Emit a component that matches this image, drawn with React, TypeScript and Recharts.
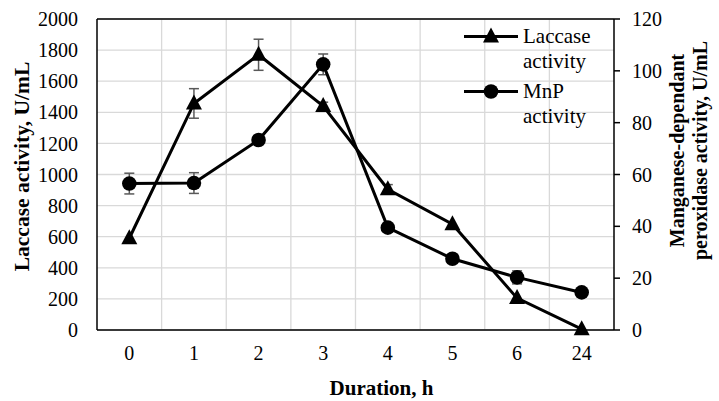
import {
  LineChart,
  Line,
  XAxis,
  YAxis,
  CartesianGrid,
  ErrorBar,
  Label,
  ReferenceLine,
} from "recharts";

const hours = ["0", "1", "2", "3", "4", "5", "6", "24"];
const laccase = [590, 1457, 1770, 1440, 905, 680, 205, 5];
const laccaseErr = [0, 95, 100, 25, 30, 0, 0, 0];
const mnp = [56.5, 56.7, 73.3, 102.5, 39.5, 27.5, 20.3, 14.5];
const mnpErr = [4, 4, 1.5, 4, 1.5, 0.5, 2.5, 0];
const leftTicks = [0, 200, 400, 600, 800, 1000, 1200, 1400, 1600, 1800, 2000];
const rightTicks = [0, 20, 40, 60, 80, 100, 120];

const data = hours.map((h, i) => ({
  hour: h,
  laccase: laccase[i],
  laccaseErr: laccaseErr[i],
  mnp: mnp[i],
  mnpErr: mnpErr[i],
}));

const FONT = '"Liberation Serif", "Times New Roman", serif';
const tickStyle = { fontSize: 20, fill: "#000", fontFamily: FONT };

// vertical grid lines sit on the boundaries between category bands
function bandEdges({ offset }: any) {
  const step = offset.width / hours.length;
  return hours.slice(1).map((_, i) => offset.left + step * (i + 1));
}

function TriangleDot(props: any) {
  const { cx, cy, index } = props;
  if (cx == null || cy == null) return null;
  return (
    <polygon
      key={`tri-${index}`}
      points={`${cx},${cy - 9} ${cx - 8},${cy + 6} ${cx + 8},${cy + 6}`}
      fill="#000"
    />
  );
}

function CircleDot(props: any) {
  const { cx, cy, index } = props;
  if (cx == null || cy == null) return null;
  return <circle key={`cir-${index}`} cx={cx} cy={cy} r={7.3} fill="#000" />;
}

// rotated multi-line axis title, placed relative to the axis viewBox
function VTitle({ viewBox, lines, dx, dy, size, gap }: any) {
  const { x, y, height } = viewBox;
  const cy = y + height / 2 + dy;
  return (
    <g>
      {lines.map((t: string, i: number) => {
        const tx = x + dx + i * gap;
        return (
          <text
            key={t}
            x={tx}
            y={cy}
            transform={`rotate(-90, ${tx}, ${cy})`}
            textAnchor="middle"
            dominantBaseline="central"
            fontFamily={FONT}
            fontWeight="bold"
            fontSize={size}
            fill="#000"
          >
            {t}
          </text>
        );
      })}
    </g>
  );
}

function LegendBox() {
  const row = (label: string, marker: "tri" | "cir", mt: number) => (
    <div style={{ display: "flex", alignItems: "flex-start", marginTop: mt }}>
      <svg width={58} height={25} style={{ flex: "none" }}>
        <line x1={2} y1={12.5} x2={56} y2={12.5} stroke="#000" strokeWidth={3} />
        {marker === "tri" ? (
          <polygon points="29,3.5 21,18.5 37,18.5" fill="#000" />
        ) : (
          <circle cx={29} cy={12.5} r={7.3} fill="#000" />
        )}
      </svg>
      <div style={{ marginLeft: 3 }}>
        <div>{label}</div>
        <div>activity</div>
      </div>
    </div>
  );
  return (
    <div
      style={{
        position: "absolute",
        top: 24,
        left: 462,
        fontFamily: FONT,
        fontSize: 21,
        lineHeight: "25px",
        color: "#000",
      }}
    >
      {row("Laccase", "tri", 0)}
      {row("MnP", "cir", 5)}
    </div>
  );
}

export default function App() {
  return (
    <div style={{ position: "absolute", left: 0, top: 0, background: "#fff", fontFamily: FONT }}>
      <LineChart
        width={719}
        height={401}
        data={data}
        margin={{ top: 19, right: 0, bottom: 0, left: 12 }}
      >
        <XAxis
          dataKey="hour"
          scale="band"
          tickLine={false}
          tickSize={6}
          tickMargin={6}
          axisLine={{ stroke: "#000", strokeWidth: 1.5 }}
          tick={{ ...tickStyle, dy: 4 }}
          height={71}
          interval={0}
        >
          <Label
            content={(p: any) => (
              <text
                x={p.viewBox.x + p.viewBox.width / 2 + 26}
                y={p.viewBox.y + 58}
                textAnchor="middle"
                dominantBaseline="central"
                fontFamily={FONT}
                fontWeight="bold"
                fontSize={21}
                fill="#000"
              >
                Duration, h
              </text>
            )}
          />
        </XAxis>
        <YAxis
          yAxisId="left"
          domain={[0, 2000]}
          ticks={leftTicks}
          interval={0}
          tickLine={false}
          tickSize={6}
          tickMargin={13}
          axisLine={{ stroke: "#000", strokeWidth: 1.5 }}
          tick={tickStyle}
          width={85}
        >
          <Label
            content={(p: any) => (
              <VTitle
                viewBox={p.viewBox}
                lines={["Laccase activity, U/mL"]}
                dx={10}
                dy={-8}
                size={21.5}
                gap={0}
              />
            )}
          />
        </YAxis>
        <YAxis
          yAxisId="right"
          orientation="right"
          domain={[0, 120]}
          ticks={rightTicks}
          interval={0}
          tickSize={6}
          tickMargin={12}
          tickLine={{ stroke: "#000", strokeWidth: 1.5 }}
          axisLine={{ stroke: "#000", strokeWidth: 1.5 }}
          tick={tickStyle}
          width={105}
        >
          <Label
            content={(p: any) => (
              <VTitle
                viewBox={p.viewBox}
                lines={["Manganese-dependant", "peroxidase activity, U/mL"]}
                dx={63}
                dy={-24}
                size={20}
                gap={23}
              />
            )}
          />
        </YAxis>
        <CartesianGrid
          yAxisId="left"
          stroke="#d9d9d9"
          strokeWidth={1.3}
          verticalCoordinatesGenerator={bandEdges}
        />
        <ReferenceLine yAxisId="left" y={2000} stroke="#000" strokeWidth={1.5} />
        <Line
          yAxisId="left"
          dataKey="laccase"
          name="Laccase activity"
          stroke="#000"
          strokeWidth={3}
          dot={TriangleDot}
          activeDot={false}
          isAnimationActive={false}
        >
          <ErrorBar dataKey="laccaseErr" width={5} stroke="#595959" strokeWidth={1.5} />
        </Line>
        <Line
          yAxisId="right"
          dataKey="mnp"
          name="MnP activity"
          stroke="#000"
          strokeWidth={3}
          dot={CircleDot}
          activeDot={false}
          isAnimationActive={false}
        >
          <ErrorBar dataKey="mnpErr" width={5} stroke="#595959" strokeWidth={1.5} />
        </Line>
      </LineChart>
      <LegendBox />
    </div>
  );
}
